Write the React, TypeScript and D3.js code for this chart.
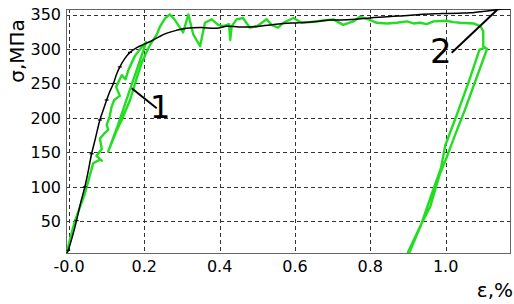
import React from 'react';
import * as d3 from 'd3';

// strain, %  /  stress, MPa
const blackStrain = [-0.006, -0.002, 0.01, 0.02, 0.03, 0.042, 0.05, 0.06, 0.07, 0.082, 0.09, 0.1, 0.108, 0.118, 0.126, 0.135, 0.148, 0.162, 0.18, 0.2, 0.22, 0.24, 0.26, 0.285, 0.312, 0.35, 0.392, 0.419, 0.45, 0.48, 0.52, 0.569, 0.61, 0.658, 0.693, 0.72, 0.76, 0.8, 0.853, 0.9, 0.932, 0.97, 1.003, 1.035, 1.065, 1.09, 1.11, 1.136, 1.15, 1.171];
const blackStress = [3, 8, 30, 51, 75, 100, 120, 148, 170, 197, 210, 226, 238, 250, 263, 274, 286, 295, 302, 307, 312, 318, 323, 327, 330, 331, 330, 333, 332, 332, 334, 337, 338, 340, 342, 342, 343, 345, 347, 348.5, 350, 351, 351.5, 352, 352.5, 354, 355, 357, 358, 358];

const greenStrain = [-0.006, 0.0, 0.008, 0.016, 0.03, 0.042, 0.052, 0.058, 0.064, 0.08, 0.087, 0.073, 0.087, 0.082, 0.095, 0.104, 0.1, 0.108, 0.113, 0.12, 0.135, 0.125, 0.14, 0.15, 0.158, 0.175, 0.195, 0.205,
  0.18, 0.155, 0.13, 0.104,
  0.125, 0.14, 0.162, 0.18, 0.193, 0.215, 0.233, 0.242, 0.256, 0.268, 0.28, 0.303, 0.317, 0.33, 0.348, 0.361, 0.379, 0.396, 0.41, 0.425, 0.428, 0.432, 0.445, 0.462, 0.48, 0.499, 0.525, 0.538, 0.555, 0.569, 0.596, 0.618, 0.64, 0.67, 0.702, 0.728, 0.755, 0.773, 0.8, 0.817, 0.845, 0.87, 0.897, 0.915, 0.932, 0.95, 0.968, 1.003, 1.02, 1.039, 1.074, 1.092, 1.1, 1.1,
  1.11, 1.08, 1.05, 1.025, 1.003, 0.985, 0.959, 0.932, 0.9,
  0.904, 0.935, 0.962, 0.988, 0.999, 1.03, 1.06, 1.09, 1.105];
const greenStress = [5, 18, 35, 51, 72, 90, 110, 122, 134, 139, 138, 145, 155, 170, 178, 183, 190, 202, 216, 226, 232, 245, 262, 256, 270, 290, 304, 310,
  270, 230, 190, 151,
  180, 197, 226, 258, 280, 306, 321, 333, 345, 350, 343, 324, 350, 321, 304, 338, 343, 335, 333, 336, 313, 333, 343, 345, 331, 333, 343, 335, 331, 338, 345, 338, 339, 341, 343, 335, 340, 347, 342, 338, 337, 338, 340, 337, 338, 336, 340, 341, 339, 338, 337, 333, 326, 304,
  300, 255, 210, 175, 143, 119, 71, 42, 5,
  5, 45, 88, 128, 160, 205, 250, 299, 302];

const yTicks = [50, 100, 150, 200, 250, 300, 350];
const xTicks = [0, 0.2, 0.4, 0.6, 0.8, 1.0];
const xTickLabels = ['-0.0', '0.2', '0.4', '0.6', '0.8', '1.0'];

const App = () => {
  const width = 514, height = 304;
  const left = 66, right = 510, top = 9, bottom = 253;
  const font = 'DejaVu Sans, Verdana, sans-serif';

  const xScale = d3.scaleLinear().domain([-0.008, 1.171]).range([left, right]);
  const yScale = d3.scaleLinear().domain([4, 358]).range([bottom, top]);

  const black = blackStrain.map((v, i) => [v, blackStress[i]]);
  const green = greenStrain.map((v, i) => [v, greenStress[i]]);
  const line = d3.line().x(d => xScale(d[0])).y(d => yScale(d[1]));
  const smooth = d3.line().x(d => xScale(d[0])).y(d => yScale(d[1])).curve(d3.curveCatmullRom);

  return (<svg xmlns="http://www.w3.org/2000/svg" width={width} height={height}
               style={{position: 'absolute', left: 0, top: 0, background: '#fff'}}>
    <defs>
      <clipPath id="plot"><rect x={left} y={top} width={right - left} height={bottom - top} /></clipPath>
    </defs>
    <g stroke="#333" strokeWidth="1" strokeDasharray="4,3">
      {yTicks.map((t, i) => <line key={i} x1={left} x2={right} y1={Math.round(yScale(t)) + 0.5} y2={Math.round(yScale(t)) + 0.5} />)}
      {xTicks.map((t, i) => <line key={i} y1={top} y2={bottom} x1={Math.round(xScale(t)) + 0.5} x2={Math.round(xScale(t)) + 0.5} />)}
    </g>
    <rect x={left + 0.5} y={top + 0.5} width={right - left} height={bottom - top} fill="none" stroke="#666" />
    <g clipPath="url(#plot)" fill="none">
      <path d={line(green)} stroke="#22dd22" strokeWidth="2.4" strokeLinejoin="round" />
      <path d={smooth(black)} stroke="#000" strokeWidth="1.5" strokeLinejoin="round" />
      {black.filter((d, i) => d[1] < 300 && i % 2 === 1).map((d, i) =>
        <line key={i} x1={xScale(d[0]) - 2} x2={xScale(d[0]) + 2} y1={yScale(d[1])} y2={yScale(d[1])} stroke="#000" strokeWidth="1.2" />)}
    </g>
    <g fontFamily={font} fontSize="16" fill="#000">
      {yTicks.map((t, i) => <text key={i} x={61} y={yScale(t)} dy="0.36em" textAnchor="end">{t}</text>)}
      {xTicks.map((t, i) => <text key={i} x={xScale(t)} y={272} textAnchor="middle">{xTickLabels[i]}</text>)}
    </g>
    <text fontFamily={font} fontSize="20" transform="translate(24,51) rotate(-90)" textAnchor="middle">σ,МПа</text>
    <text fontFamily={font} fontSize="20" x={513} y={297} textAnchor="end">ε,%</text>
    <line x1={131.7} y1={88.3} x2={156.7} y2={108.3} stroke="#000" strokeWidth="2" />
    <text fontFamily={font} fontSize="32" x={150} y={118}>1</text>
    <line x1={451.7} y1={52.7} x2={497} y2={10} stroke="#000" strokeWidth="2" />
    <text fontFamily={font} fontSize="34" x={430} y={63}>2</text>
  </svg>);
};

export default App;
